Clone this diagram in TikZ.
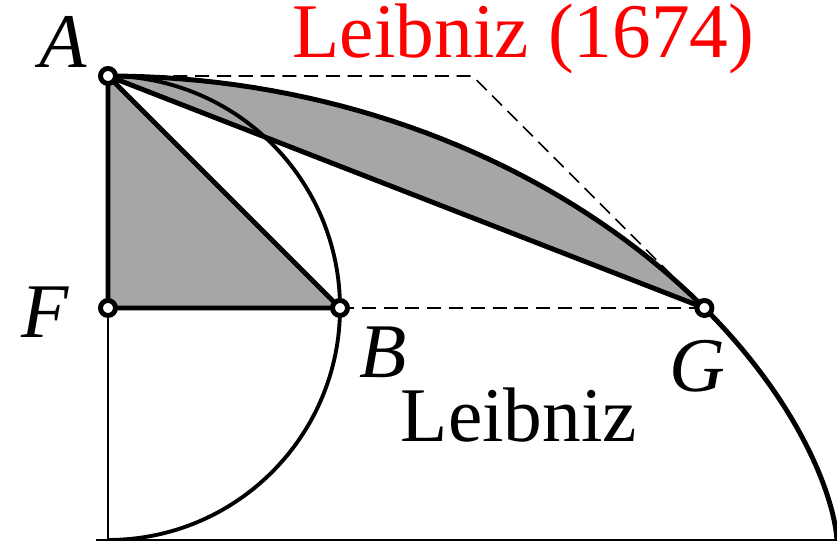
\documentclass[tikz,border=0pt]{standalone}
\usepackage{fontspec}
\setmainfont{Liberation Serif}
\tikzset{
  dot/.style={draw, fill=white, line width=1.4pt},
  guide/.style={line width=0.45pt, dash pattern=on 4pt off 2.2pt},
}
\begin{document}
\begin{tikzpicture}[font=\fontsize{22}{26}\selectfont]
\useasboundingbox (-1.08,-0.01) rectangle (7.29,5.40);

\coordinate (O) at (0,0);
\coordinate (S) at (-0.12,0);
\coordinate (A) at (0,4.64);
\coordinate (F) at (0,2.32);
\coordinate (B) at (2.32,2.32);
\coordinate (G) at ({2.32*(pi/2+1)},2.32);
\coordinate (T) at ({2.32*pi/2},4.64);
\coordinate (E) at ({2.32*pi},0);

% shaded parts
\fill[black!35] (A) -- (F) -- (B) -- cycle;
\fill[black!35] plot[domain=0:pi/2, samples=40, variable=\s]
  ({2.32*(\s+sin(\s r))},{2.32*(1+cos(\s r))}) -- cycle;

\draw[guide] (A) -- (T) -- (G);
\draw[guide] (B) -- (G);
\draw[line width=0.6pt] (F) -- (O);
\draw[line width=0.6pt] (S) -- (E);
\draw[line width=1.1pt] (A) arc[start angle=90, end angle=-90, radius=2.32];

% cycloid
\draw[line width=1.4pt] plot[domain=0:pi, samples=80, variable=\s]
  ({2.32*(\s+sin(\s r))},{2.32*(1+cos(\s r))});
\draw[line width=1.4pt, line join=round] (G) -- (A) -- (F) -- (B) -- (A);

\foreach \p in {A,F,B,G}
  \draw[dot] (\p) circle [radius=0.075];

\node[anchor=base] (la) at (-0.45,4.72) {\textit{A}};
\node[anchor=base] (lf) at (-0.63,2.02) {\textit{F}};
\node[anchor=base] (lb) at (2.75,1.62) {\textit{B}};
\node[anchor=base] (lg) at (5.89,1.48) {\textit{G}};
\node[anchor=base] (name) at (4.11,0.98) {Leibniz};
\node[anchor=base, red] (title) at (4.155,4.82) {Leibniz (1674)};
\end{tikzpicture}
\end{document}
